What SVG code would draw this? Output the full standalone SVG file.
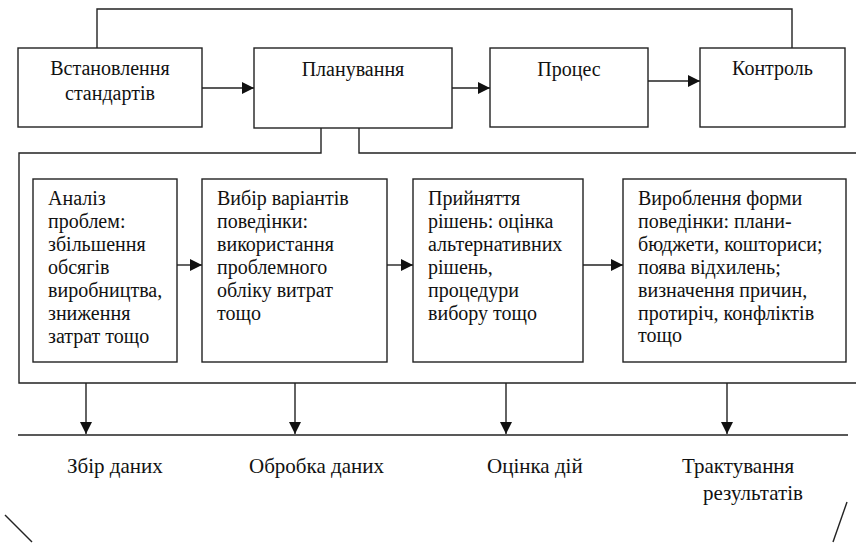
<svg xmlns="http://www.w3.org/2000/svg" width="856" height="543" viewBox="0 0 856 543" font-family="Liberation Serif, serif">
<defs>
<style>
.box{fill:#fff;stroke:#222;stroke-width:1.4}
.ln{fill:none;stroke:#222;stroke-width:1.4}
.t{font-size:20px;fill:#111}
.tc{text-anchor:middle}
.lb{font-size:21px;fill:#111}
</style>
<marker id="ah" viewBox="0 0 10 10" refX="10" refY="5" markerWidth="12" markerHeight="12" markerUnits="userSpaceOnUse" orient="auto">
<path d="M0,0 L10,5 L0,10 Z" fill="#111"/>
</marker>
</defs>
<g id="connectors">
<path class="ln" d="M97,48 V9 H792 V48"/>
<path class="ln" d="M202,88 H254" marker-end="url(#ah)"/>
<path class="ln" d="M452,88 H490" marker-end="url(#ah)"/>
<path class="ln" d="M648,81 H700" marker-end="url(#ah)"/>
<path class="ln" d="M321,128 V153 H19 V383 H856"/>
<path class="ln" d="M359,128 V153 H856"/>
<path class="ln" d="M177,265 H202" marker-end="url(#ah)"/>
<path class="ln" d="M387,265 H413" marker-end="url(#ah)"/>
<path class="ln" d="M583,265 H623" marker-end="url(#ah)"/>
<path class="ln" d="M86,383 V434" marker-end="url(#ah)"/>
<path class="ln" d="M295,383 V434" marker-end="url(#ah)"/>
<path class="ln" d="M506,383 V434" marker-end="url(#ah)"/>
<path class="ln" d="M727,383 V434" marker-end="url(#ah)"/>
<path class="ln" d="M18,435 H848"/>
<path class="ln" d="M5,515 L32,542"/>
<path class="ln" d="M847,502 L833,542"/>
</g>
<g id="n-standards">
<rect class="box" x="18" y="48" width="184" height="79"/>
<text class="t tc" x="110" y="75">Встановлення</text>
<text class="t tc" x="110" y="100">стандартів</text>
</g>
<g id="n-planning">
<rect class="box" x="254" y="48" width="198" height="80"/>
<text class="t tc" x="353" y="76">Планування</text>
</g>
<g id="n-process">
<rect class="box" x="490" y="48" width="158" height="79"/>
<text class="t tc" x="569" y="76">Процес</text>
</g>
<g id="n-control">
<rect class="box" x="700" y="48" width="145" height="79"/>
<text class="t tc" x="772.5" y="75">Контроль</text>
</g>
<g id="n-analysis">
<rect class="box" x="33" y="179" width="144" height="183"/>
<text class="t" x="48" y="205">Аналіз</text>
<text class="t" x="48" y="228">проблем:</text>
<text class="t" x="48" y="251">збільшення</text>
<text class="t" x="48" y="274">обсягів</text>
<text class="t" x="48" y="297">виробництва,</text>
<text class="t" x="48" y="320">зниження</text>
<text class="t" x="48" y="343">затрат тощо</text>
</g>
<g id="n-choice">
<rect class="box" x="202" y="179" width="185" height="183"/>
<text class="t" x="217" y="205">Вибір варіантів</text>
<text class="t" x="217" y="228">поведінки:</text>
<text class="t" x="217" y="251">використання</text>
<text class="t" x="217" y="274">проблемного</text>
<text class="t" x="217" y="297">обліку витрат</text>
<text class="t" x="217" y="320">тощо</text>
</g>
<g id="n-decision">
<rect class="box" x="413" y="179" width="170" height="183"/>
<text class="t" x="428" y="205">Прийняття</text>
<text class="t" x="428" y="228">рішень: оцінка</text>
<text class="t" x="428" y="251">альтернативних</text>
<text class="t" x="428" y="274">рішень,</text>
<text class="t" x="428" y="297">процедури</text>
<text class="t" x="428" y="320">вибору тощо</text>
</g>
<g id="n-form">
<rect class="box" x="623" y="179" width="223" height="183"/>
<text class="t" x="638" y="205">Вироблення форми</text>
<text class="t" x="638" y="228">поведінки: плани-</text>
<text class="t" x="638" y="251">бюджети, кошториси;</text>
<text class="t" x="638" y="274">поява відхилень;</text>
<text class="t" x="638" y="297">визначення причин,</text>
<text class="t" x="638" y="320">протиріч, конфліктів</text>
<text class="t" x="638" y="342">тощо</text>
</g>
<g id="labels">
<text class="lb" x="67" y="473">Збір даних</text>
<text class="lb" x="249" y="473">Обробка даних</text>
<text class="lb" x="487" y="473">Оцінка дій</text>
<text class="lb" x="682" y="473">Трактування</text>
<text class="lb" x="703" y="500">результатів</text>
</g>
</svg>
